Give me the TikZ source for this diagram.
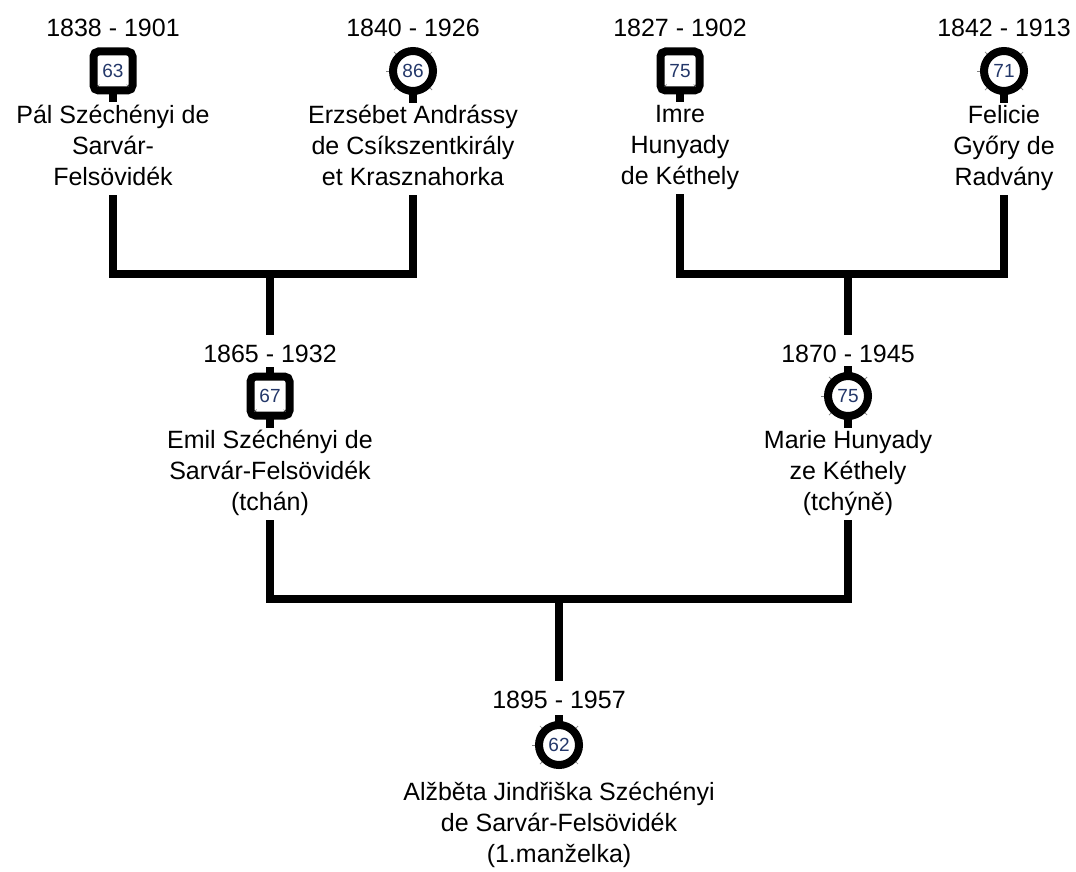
\documentclass[tikz,border=0pt]{standalone}
\usepackage{fontspec}
\setmainfont{Liberation Sans}
\usepackage{tikz}
\definecolor{numcol}{RGB}{35,55,105}
\tikzset{
    yearbox/.style={font=\fontsize{25}{31}\selectfont,inner xsep=0pt,inner ysep=9pt,text height=18pt,text depth=5pt,anchor=base},
    namebox/.style={font=\fontsize{25}{31}\selectfont,align=center,inner sep=0pt,anchor=north,
        execute at begin node=\strut,execute at end node=\strut},
    malebox/.style={draw,rectangle,rounded corners=5pt,line width=8pt,minimum size=39pt,inner sep=0pt,
        fill=white,text=numcol,font=\fontsize{19}{22}\selectfont},
    femalebox/.style={draw,circle,line width=8pt,minimum size=40pt,inner sep=0pt,
        fill=white,text=numcol,font=\fontsize{19}{22}\selectfont},
    stemline/.style={line width=8pt,black},
    downstem/.style={append after command={([yshift=2pt]\tikzlastnode.south) edge[stemline] ([yshift=-8pt]\tikzlastnode.south)}},
    upstem/.style={append after command={([yshift=-2pt]\tikzlastnode.north) edge[stemline] ([yshift=6pt]\tikzlastnode.north)}},
    kinline/.style={line width=8pt,line join=miter},
    tick/.style={gray,line width=0.7pt}
}

\begin{document}
\begin{tikzpicture}[x=1pt,y=-1pt]
    \useasboundingbox (0,0) rectangle (1076,872);
    % grandparents, father's side
    \node[yearbox] (pal-date) at (113,37) {1838 - 1901};
    \node[malebox,downstem] (pal-ico) at (113,71) {63};
    \node[namebox] (pal-name) at (113,105.3) {Pál Széchényi de\\Sarvár-\\Felsövidék};
    \node[yearbox] (erzs-date) at (413,37) {1840 - 1926};
    \node[femalebox,downstem] (erzs-ico) at (413,71) {86};
    \node[namebox] (erzs-name) at (413,105.3) {Erzsébet Andrássy\\de Csíkszentkirály\\et Krasznahorka};
    % grandparents, mother's side
    \node[yearbox] (imre-date) at (680,37) {1827 - 1902};
    \node[malebox,downstem] (imre-ico) at (680,71) {75};
    \node[namebox] (imre-name) at (680,105.3) {Imre\\Hunyady\\de Kéthely};
    \node[yearbox] (feli-date) at (1004,37) {1842 - 1913};
    \node[femalebox,downstem] (feli-ico) at (1004,71) {71};
    \node[namebox] (feli-name) at (1004,105.3) {Felicie\\Győry de\\Radvány};
    % parents
    \node[yearbox] (emil-date) at (270,362) {1865 - 1932};
    \node[malebox,upstem,downstem] (emil-ico) at (270,396) {67};
    \node[namebox] (emil-name) at (270,430.3) {Emil Széchényi de\\Sarvár-Felsövidék\\(tchán)};
    \node[yearbox] (marie-date) at (848,362) {1870 - 1945};
    \node[femalebox,upstem,downstem] (marie-ico) at (848,396) {75};
    \node[namebox] (marie-name) at (848,430.3) {Marie Hunyady\\ze Kéthely\\(tchýně)};
    % child
    \node[yearbox] (alz-date) at (559,708) {1895 - 1957};
    \node[femalebox,upstem] (alz-ico) at (559,745) {62};
    \node[namebox] (alz-name) at (559,782.3) {Alžběta Jindřiška Széchényi\\de Sarvár-Felsövidék\\(1.manželka)};

    % marks on the symbols
    \foreach \p in {erzs,feli,marie,alz}
        \foreach \a in {45,135,180,225,315}
            \draw[tick] (\p-ico.\a) -- ([shift={(\a:3pt)}]\p-ico.\a);
    \foreach \p in {pal,imre,emil} {
        \draw[tick] ([shift={(10pt,10pt)}]\p-ico.south west) -- ++(-2pt,-2pt);
        \draw[tick] ([shift={(-10pt,10pt)}]\p-ico.south east) -- ++(2pt,-2pt);
    }

    % family lines
    \coordinate (u1) at (270,274);
    \coordinate (u2) at (848,274);
    \coordinate (u3) at (559,599);
    \draw[kinline] (pal-name.south) |- (u1) -| (erzs-name.south);
    \draw[kinline] (u1) -- (emil-date.north);
    \draw[kinline] (imre-name.south) |- (u2) -| (feli-name.south);
    \draw[kinline] (u2) -- (marie-date.north);
    \draw[kinline] (emil-name.south) |- (u3) -| (marie-name.south);
    \draw[kinline] (u3) -- (alz-date.north);
\end{tikzpicture}
\end{document}
